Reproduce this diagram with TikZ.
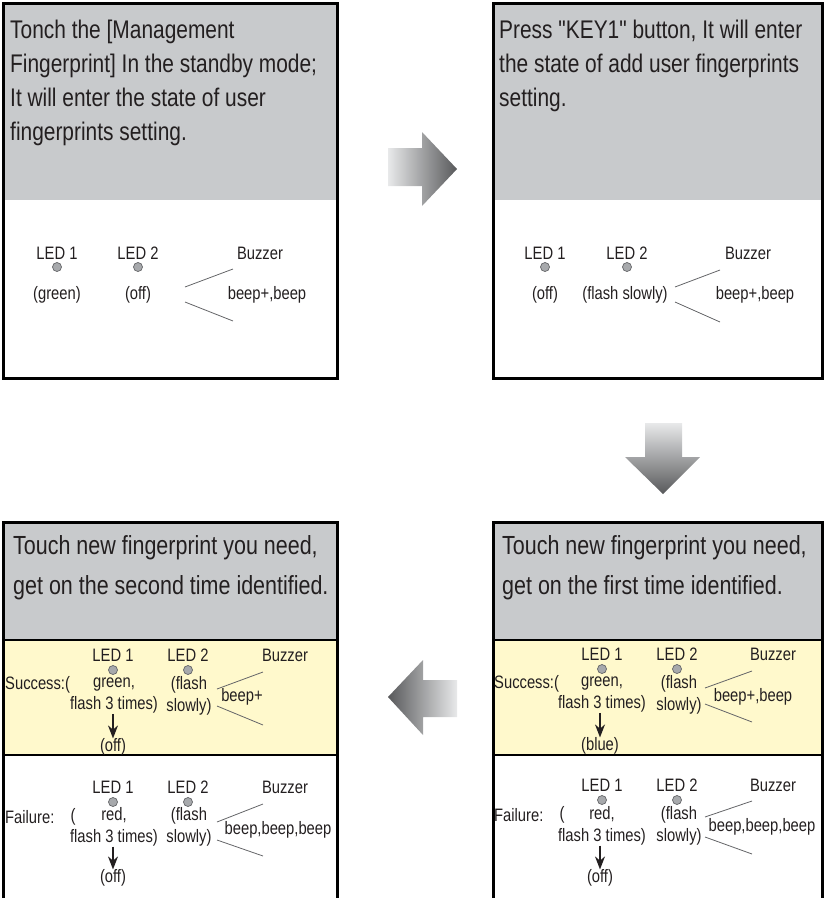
\documentclass[tikz,border=0pt]{standalone}
\usepackage{fontspec}
\setmainfont{Liberation Sans}[FakeStretch=0.82, Ligatures=TeXOff]
\usepackage{xcolor}
\usepackage{tikz}
\usetikzlibrary{arrows.meta}
\definecolor{headgray}{RGB}{200,202,204}
\definecolor{passyellow}{RGB}{255,249,204}
\definecolor{ink}{RGB}{35,31,32}
\definecolor{ledgray}{RGB}{167,169,172}
\definecolor{linegray}{RGB}{100,101,104}
\definecolor{arrowlight}{RGB}{232,233,234}
\definecolor{arrowdark}{RGB}{88,89,91}
\newcommand*{\bigtext}{\fontsize{25.5}{34}\selectfont}
\newcommand*{\touchtext}{\fontsize{26.2}{40}\selectfont}
\newcommand*{\smalltext}{\fontsize{18}{22}\selectfont}
\tikzset{
  panel/.style={draw=black, line width=3pt},
  divider/.style={draw=black, line width=2.5pt},
  hdr/.style={font=\bigtext, text=ink, align=left, inner sep=0pt, anchor=north west},
  hdrtouch/.style={hdr, font=\touchtext},
  lbl/.style={font=\smalltext, text=ink, align=center, inner sep=0pt},
  led/.style={circle, draw=linegray, fill=ledgray, inner sep=0pt, minimum size=9pt, line width=0.7pt},
  buzz/.style={draw=linegray, line width=0.8pt},
  goesto/.style={-{Stealth[length=13pt, width=10pt]}, line width=1.3pt, draw=ink},
}

\begin{document}
\begin{tikzpicture}[x=1pt, y=-1pt]
    \useasboundingbox (0,0) rectangle (825,898);
    % backgrounds
    \fill[headgray] (3,3) rectangle (337,200);
    \fill[headgray] (493,3) rectangle (822,200);
    \fill[headgray] (3,522) rectangle (337,640);
    \fill[passyellow] (3,640) rectangle (337,755);
    \fill[headgray] (493,522) rectangle (822,640);
    \fill[passyellow] (493,640) rectangle (822,755);
    \draw[panel] (3,3) rectangle (337,378);
    \draw[panel] (493,3) rectangle (822,378);
    \draw[panel] (3,522) rectangle (337,900);
    \draw[panel] (493,522) rectangle (822,900);
    \draw[divider] (3,640) -- (337,640) (3,755) -- (337,755);
    \draw[divider] (493,640) -- (822,640) (493,755) -- (822,755);

    % step 1
    \node[hdr] (standby) at (10,20) {Tonch the [Management\\Fingerprint] In the standby mode;\\It will enter the state of user\\fingerprints setting.};
    \node[lbl] (ledonea) at (57,253) {LED 1};
    \node[led] (dotonea) at (57,267) {};
    \node[lbl] (stateonea) at (57,295) {(green)};
    \node[lbl] (ledtwoa) at (138,253) {LED 2};
    \node[led] (dottwoa) at (138,267) {};
    \node[lbl] (statetwoa) at (138,295) {(off)};
    \node[lbl] (buzza) at (260,253) {Buzzer};
    \node[lbl] (beepa) at (267,295) {beep+,beep};
    \draw[buzz] (185,287) -- (233,269);
    \draw[buzz] (185,302) -- (233,321);

    % step 2
    \node[hdr] (keyone) at (499,20) {Press "KEY1" button, It will enter\\the state of add user fingerprints\\setting.};
    \node[lbl] (ledoneb) at (545,253) {LED 1};
    \node[led] (dotoneb) at (545,267) {};
    \node[lbl] (stateoneb) at (545,295) {(off)};
    \node[lbl] (ledtwob) at (627,253) {LED 2};
    \node[led] (dottwob) at (627,267) {};
    \node[lbl] (statetwob) at (625,295) {(flash slowly)};
    \node[lbl] (buzzb) at (748,253) {Buzzer};
    \node[lbl] (beepb) at (755,295) {beep+,beep};
    \draw[buzz] (675,287) -- (720,270);
    \draw[buzz] (675,302) -- (720,322);

    % step 3, first touch
    \node[hdrtouch] (firsttouch) at (502,535) {Touch new fingerprint you need,\\get on the first time identified.};
    \node[lbl, anchor=west] (okd) at (494,684) {Success:(};
    \node[lbl] (okledoned) at (602,654) {LED 1};
    \node[led] (okdotoned) at (602,669) {};
    \node[lbl] (okoned) at (602,695) {green,\\flash 3 times)};
    \node[lbl] (okledtwod) at (677,654) {LED 2};
    \node[led] (okdottwod) at (677,669) {};
    \node[lbl] (oktwod) at (679,695) {(flash\\slowly)};
    \node[lbl] (okbuzzd) at (773,654) {Buzzer};
    \node[lbl] (okbeepd) at (753,697) {beep+,beep};
    \node[lbl] (okendd) at (600,746) {(blue)};
    \draw[buzz] (705,688) -- (752,671);
    \draw[buzz] (705,704) -- (752,722);
    \node[lbl, anchor=west] (faild) at (494,815) {Failure:};
    \node[lbl] (failpard) at (562,815) {(};
    \node[lbl] (failledoned) at (602,785) {LED 1};
    \node[led] (faildotoned) at (602,800) {};
    \node[lbl] (failoned) at (602,826) {red,\\flash 3 times)};
    \node[lbl] (failledtwod) at (677,785) {LED 2};
    \node[led] (faildottwod) at (677,800) {};
    \node[lbl] (failtwod) at (679,826) {(flash\\slowly)};
    \node[lbl] (failbuzzd) at (773,785) {Buzzer};
    \node[lbl] (failbeepd) at (762,827) {beep,beep,beep};
    \node[lbl] (failendd) at (600,878) {(off)};
    \draw[buzz] (705,817) -- (752,801);
    \draw[buzz] (705,837) -- (752,854);

    % step 4, second touch
    \node[hdrtouch] (secondtouch) at (13,535) {Touch new fingerprint you need,\\get on the second time identified.};
    \node[lbl, anchor=west] (okc) at (5,685) {Success:(};
    \node[lbl] (okledonec) at (113,655) {LED 1};
    \node[led] (okdotonec) at (113,670) {};
    \node[lbl] (okonec) at (114,696) {green,\\flash 3 times)};
    \node[lbl] (okledtwoc) at (188,655) {LED 2};
    \node[led] (okdottwoc) at (188,670) {};
    \node[lbl] (oktwoc) at (189,696) {(flash\\slowly)};
    \node[lbl] (okbuzzc) at (285,655) {Buzzer};
    \node[lbl] (okbeepc) at (242,697) {beep+};
    \node[lbl] (okendc) at (113,747) {(off)};
    \draw[buzz] (217,689) -- (263,672);
    \draw[buzz] (217,706) -- (263,725);
    \node[lbl, anchor=west] (failc) at (5,817) {Failure:};
    \node[lbl] (failparc) at (73,817) {(};
    \node[lbl] (failledonec) at (113,787) {LED 1};
    \node[led] (faildotonec) at (113,802) {};
    \node[lbl] (failonec) at (114,827) {red,\\flash 3 times)};
    \node[lbl] (failledtwoc) at (188,787) {LED 2};
    \node[led] (faildottwoc) at (188,802) {};
    \node[lbl] (failtwoc) at (189,827) {(flash\\slowly)};
    \node[lbl] (failbuzzc) at (285,787) {Buzzer};
    \node[lbl] (failbeepc) at (278,830) {beep,beep,beep};
    \node[lbl] (failendc) at (113,878) {(off)};
    \draw[buzz] (217,822) -- (263,804);
    \draw[buzz] (217,840) -- (263,856);

    % led 1 changes
    \begin{scope}[goesto]
      \draw (okoned.south -| okendd) -- (okendd.north);
      \draw (failoned.south -| failendd) -- (failendd.north);
      \draw (okonec.south -| okendc) -- (okendc.north);
      \draw (failonec.south -| failendc) -- (failendc.north);
    \end{scope}

    % big arrows between the steps
    \shade[left color=arrowlight, right color=arrowdark] (388,148) -- (422,148) -- (422,132) -- (457,169) -- (422,206) -- (422,186) -- (388,186) -- cycle;
    \shade[top color=arrowlight, bottom color=arrowdark] (645,423) -- (682,423) -- (682,457) -- (700,457) -- (663,494) -- (625,457) -- (645,457) -- cycle;
    \shade[left color=arrowdark, right color=arrowlight] (457,680) -- (423,680) -- (423,660) -- (388,697) -- (423,735) -- (423,717) -- (457,717) -- cycle;
  \end{tikzpicture}
\end{document}
